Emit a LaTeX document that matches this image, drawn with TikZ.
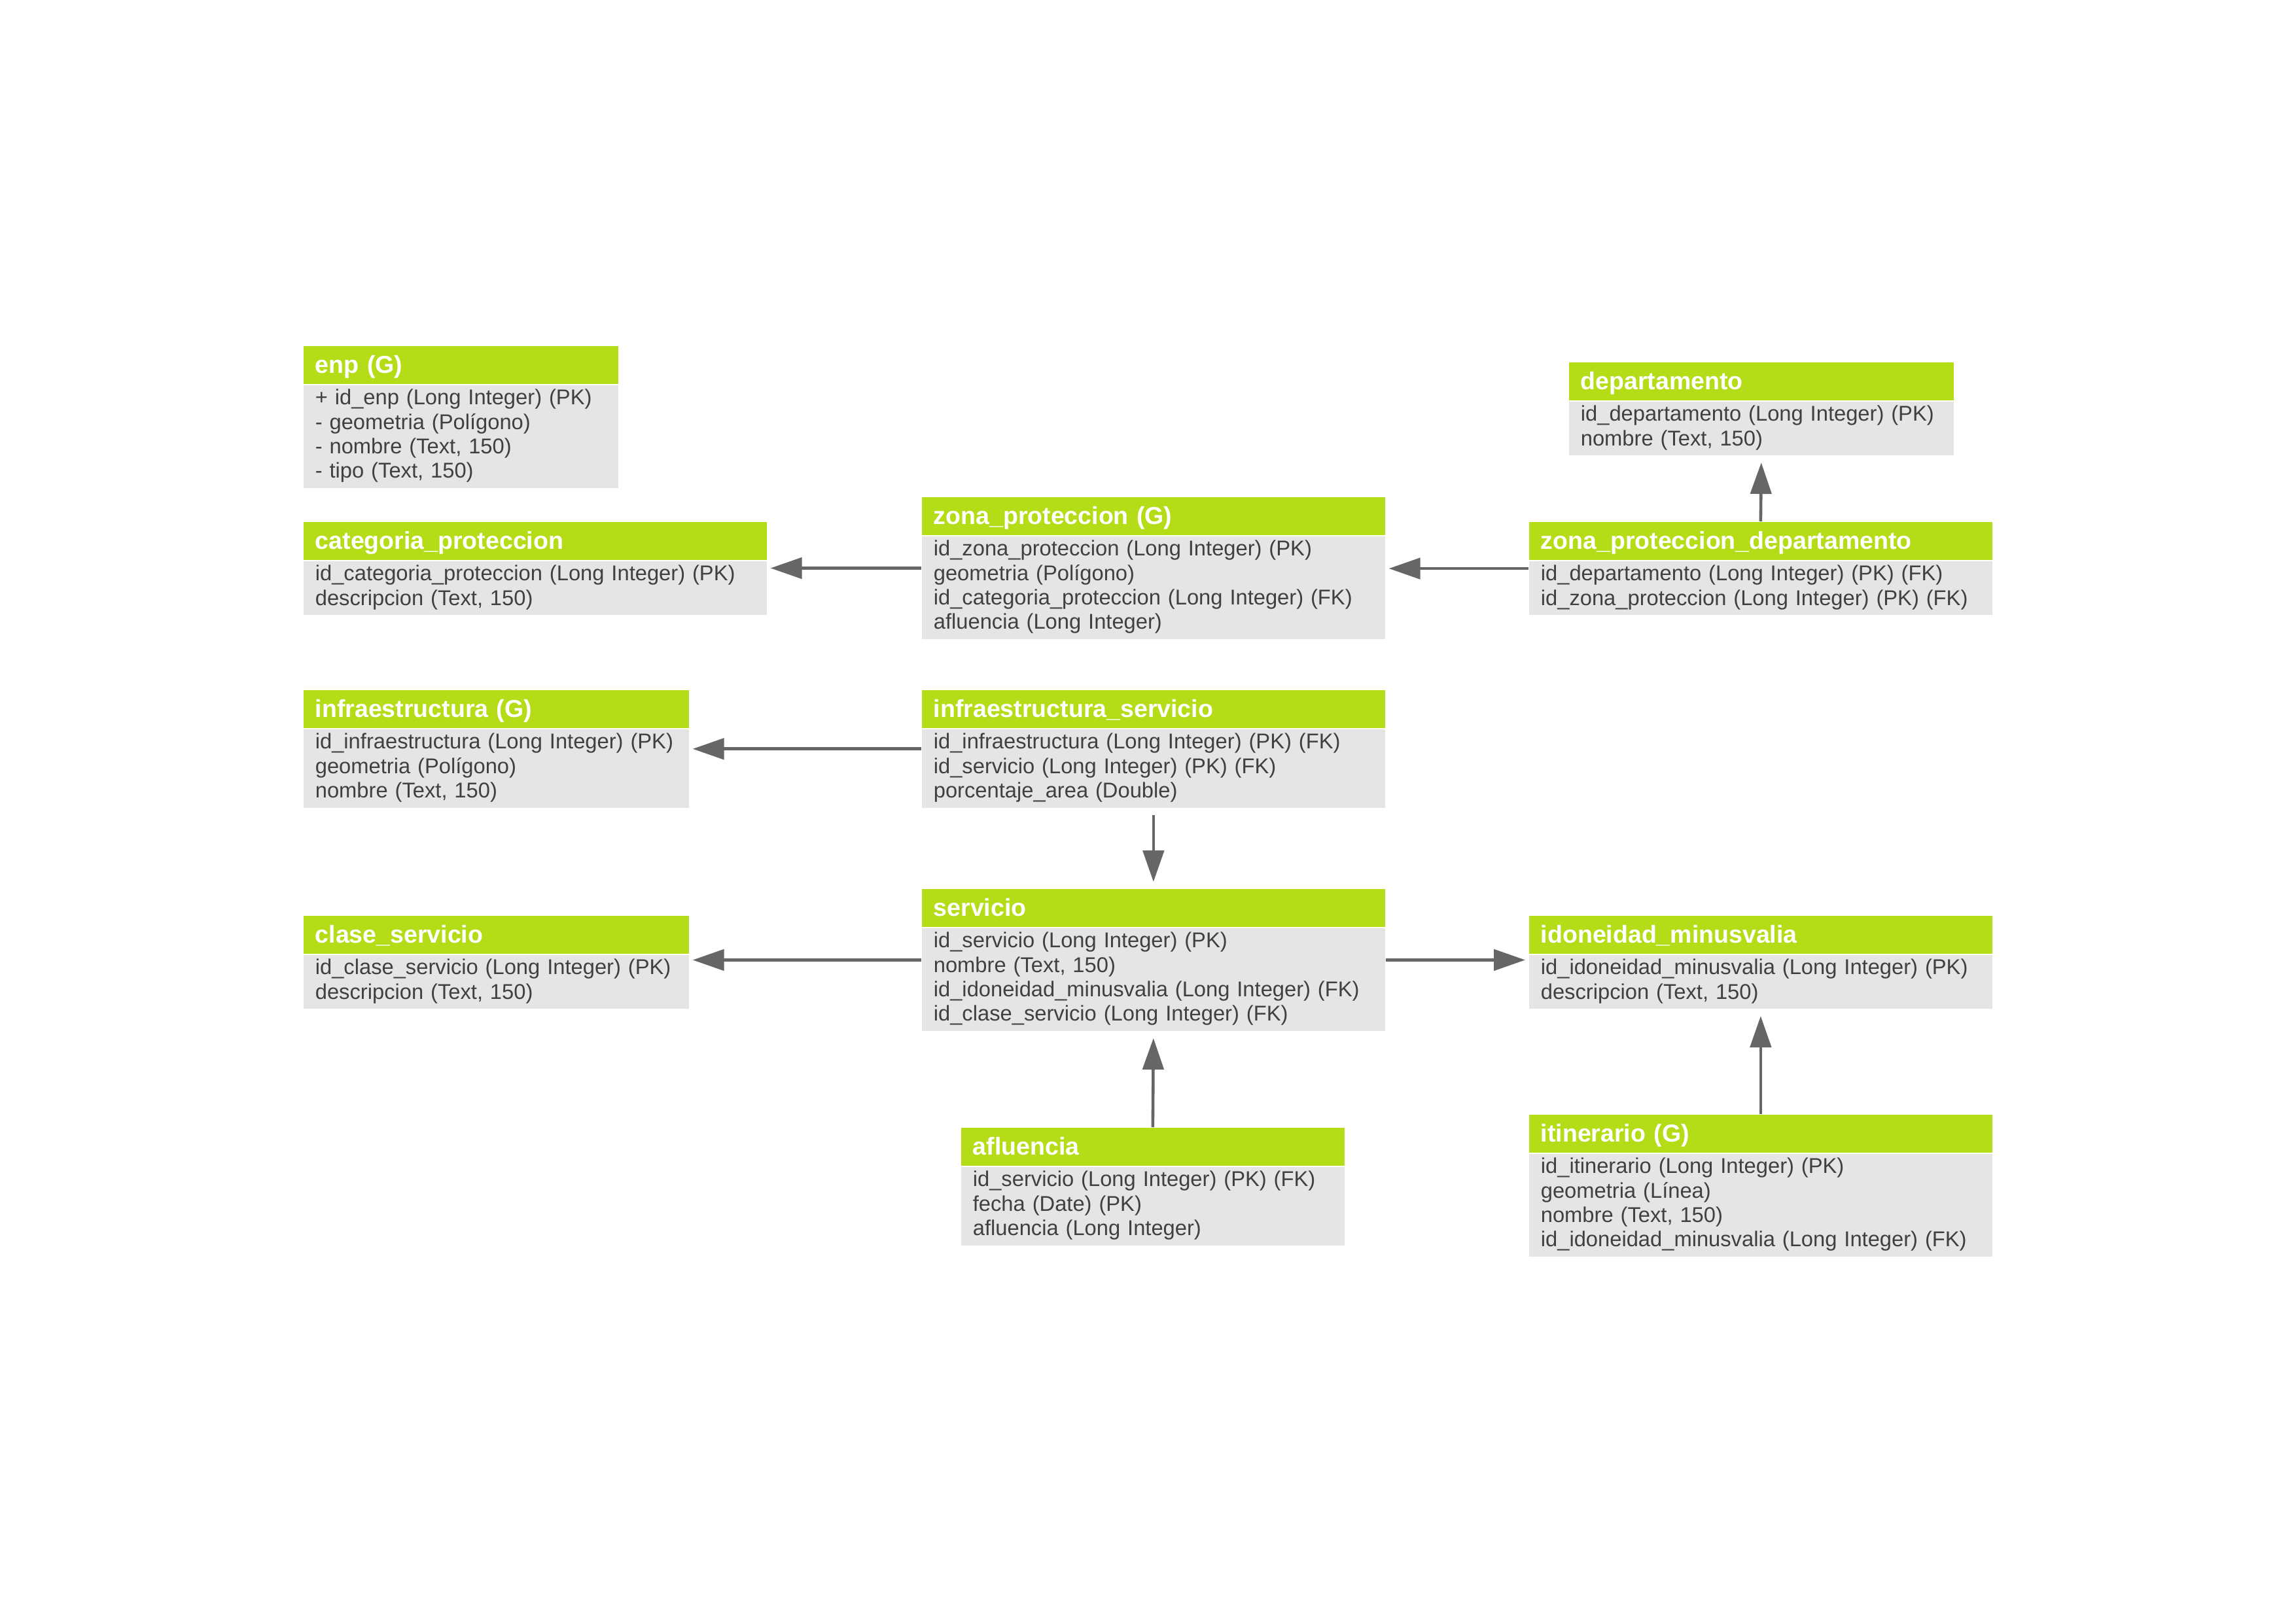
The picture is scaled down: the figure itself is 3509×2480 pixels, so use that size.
\documentclass[tikz,border=0pt]{standalone}
\usepackage{fontspec}
\setmainfont{Liberation Sans}
\usetikzlibrary{arrows.meta,fit}

\definecolor{hdrgreen}{HTML}{B5DD17}
\definecolor{bodygray}{HTML}{E5E5E5}
\definecolor{txtgray}{HTML}{404040}
\definecolor{linkgray}{HTML}{666666}

% one drawing unit
\newdimen\pxd \pxd=0.24pt
\newdimen\tabw \newdimen\tabtw \newdimen\tabh

\tikzset{
  erhead/.style={fill=hdrgreen, draw=none, text=white, font=\bfseries\fontsize{9}{10.8}\selectfont,
    inner xsep=18\pxd, inner ysep=0pt, minimum height=58\pxd, align=left,
    text height=6.6pt, text depth=0.4pt},
  erbody/.style={fill=bodygray, draw=none, text=txtgray, font=\fontsize{7.85}{8.98}\selectfont,
    inner xsep=18\pxd, inner ysep=0pt, align=left},
  fk/.style={draw=linkgray, line width=1.1pt, -{Triangle[length=11.5pt,width=7.7pt]}, shorten >=5\pxd},
  fkv/.style={fk, shorten >=10\pxd},
}

% table: name, top-left corner, width, number of rows, title, rows
\newcommand\ertable[6]{%
  \tabw=#3\pxd
  \tabtw=\tabw \advance\tabtw by -36\pxd
  \tabh=37.4\pxd \tabh=#4\tabh \advance\tabh by 8\pxd
  \node[erhead, minimum width=\tabw, text width=\tabtw, anchor=north west] (#1-h) at #2 {#5};
  \node[erbody, minimum width=\tabw, text width=\tabtw, minimum height=\tabh, anchor=north west]
    (#1-b) at (#1-h.south west) {\begin{tabular}{@{}l@{}}#6\end{tabular}};
  \node[fit=(#1-h)(#1-b), inner sep=0pt, outer sep=0pt] (#1) {};
}

\begin{document}
\begin{tikzpicture}[x=\pxd, y=-\pxd]
  \fill[white] (0,0) rectangle (3509,2480);
  \useasboundingbox (0,0) rectangle (3509,2480);

  \ertable{enp}{(463,528)}{481}{4}{enp (G)}{%
    + id\_enp (Long Integer) (PK)\\
    - geometria (Polígono)\\
    - nombre (Text, 150)\\
    - tipo (Text, 150)}

  \ertable{cat}{(463,797)}{708}{2}{categoria\_proteccion}{%
    id\_categoria\_proteccion (Long Integer) (PK)\\
    descripcion (Text, 150)}

  \ertable{zona}{(1408,759)}{708}{4}{zona\_proteccion (G)}{%
    id\_zona\_proteccion (Long Integer) (PK)\\
    geometria (Polígono)\\
    id\_categoria\_proteccion (Long Integer) (FK)\\
    afluencia (Long Integer)}

  \ertable{dep}{(2397,553)}{588}{2}{departamento}{%
    id\_departamento (Long Integer) (PK)\\
    nombre (Text, 150)}

  \ertable{zpd}{(2336,797)}{708}{2}{zona\_proteccion\_departamento}{%
    id\_departamento (Long Integer) (PK) (FK)\\
    id\_zona\_proteccion (Long Integer) (PK) (FK)}

  \ertable{infra}{(463,1054)}{589}{3}{infraestructura (G)}{%
    id\_infraestructura (Long Integer) (PK)\\
    geometria (Polígono)\\
    nombre (Text, 150)}

  \ertable{infserv}{(1408,1054)}{708}{3}{infraestructura\_servicio}{%
    id\_infraestructura (Long Integer) (PK) (FK)\\
    id\_servicio (Long Integer) (PK) (FK)\\
    porcentaje\_area (Double)}

  \ertable{serv}{(1408,1358)}{708}{4}{servicio}{%
    id\_servicio (Long Integer) (PK)\\
    nombre (Text, 150)\\
    id\_idoneidad\_minusvalia (Long Integer) (FK)\\
    id\_clase\_servicio (Long Integer) (FK)}

  \ertable{clase}{(463,1399)}{589}{2}{clase\_servicio}{%
    id\_clase\_servicio (Long Integer) (PK)\\
    descripcion (Text, 150)}

  \ertable{idon}{(2336,1399)}{708}{2}{idoneidad\_minusvalia}{%
    id\_idoneidad\_minusvalia (Long Integer) (PK)\\
    descripcion (Text, 150)}

  \ertable{aflu}{(1468,1723)}{586}{3}{afluencia}{%
    id\_servicio (Long Integer) (PK) (FK)\\
    fecha (Date) (PK)\\
    afluencia (Long Integer)}

  \ertable{itin}{(2336,1703)}{708}{4}{itinerario (G)}{%
    id\_itinerario (Long Integer) (PK)\\
    geometria (Línea)\\
    nombre (Text, 150)\\
    id\_idoneidad\_minusvalia (Long Integer) (FK)}

  % foreign key references
  \draw[fk]  (zona.west) -- (cat.east |- zona.west);
  \draw[fk]  (zpd.west) -- (zona.east |- zpd.west);
  \draw[fkv] (zpd.north) -- (dep.south);
  \draw[fk]  (infserv.west) -- (infra.east |- infserv.west);
  \draw[fkv, shorten <=10\pxd] (infserv.south) -- (serv.north);
  \draw[fk]  (serv.west) -- (clase.east |- serv.west);
  \draw[fk]  (serv.east) -- (idon.west |- serv.east);
  \draw[fkv] (aflu.north) -- (serv.south);
  \draw[fkv] (itin.north) -- (idon.south);
\end{tikzpicture}
\end{document}
